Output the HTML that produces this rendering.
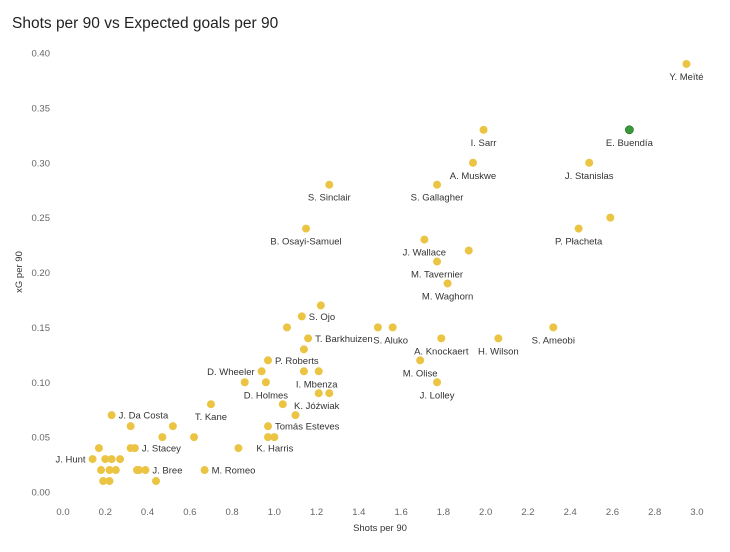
<!DOCTYPE html>
<html><head><meta charset="utf-8"><style>
body{margin:0;background:#fff;font-family:"Liberation Sans","DejaVu Sans",sans-serif}
svg text{font-family:"Liberation Sans","DejaVu Sans",sans-serif}
</style></head><body>
<svg id="chart" width="730" height="547" xmlns="http://www.w3.org/2000/svg">
<text x="12" y="28" font-size="15.5" fill="#222">Shots per 90 vs Expected goals per 90</text>
<g id="axes"></g><g id="marks"></g>
<text x="380" y="531" font-size="9.5" fill="#333" text-anchor="middle">Shots per 90</text>
<text transform="translate(22,272) rotate(-90)" font-size="9.5" fill="#333" text-anchor="middle">xG per 90</text>
</svg>
<script>
const shots=[2.95,2.68,1.99,1.94,2.49,1.26,1.77,2.59,2.44,1.15,1.71,1.92,1.77,1.82,1.22,1.13,1.06,1.49,1.56,2.32,1.16,1.79,2.06,1.14,0.97,1.69,0.94,1.14,1.21,0.86,0.96,1.77,1.21,1.26,1.04,0.70,1.10,0.23,0.32,0.52,0.97,0.47,0.62,0.97,1.00,0.83,0.17,0.32,0.34,0.14,0.20,0.23,0.27,0.18,0.22,0.25,0.35,0.36,0.39,0.67,0.19,0.22,0.44];
const xg=[0.39,0.33,0.33,0.30,0.30,0.28,0.28,0.25,0.24,0.24,0.23,0.22,0.21,0.19,0.17,0.16,0.15,0.15,0.15,0.15,0.14,0.14,0.14,0.13,0.12,0.12,0.11,0.11,0.11,0.10,0.10,0.10,0.09,0.09,0.08,0.08,0.07,0.07,0.06,0.06,0.06,0.05,0.05,0.05,0.05,0.04,0.04,0.04,0.04,0.03,0.03,0.03,0.03,0.02,0.02,0.02,0.02,0.02,0.02,0.02,0.01,0.01,0.01];
const names=["Y. Meïté","E. Buendía","I. Sarr","A. Muskwe","J. Stanislas","S. Sinclair","S. Gallagher","","P. Płacheta","B. Osayi-Samuel","J. Wallace","","M. Tavernier","M. Waghorn","","S. Ojo","","","S. Aluko","S. Ameobi","T. Barkhuizen","A. Knockaert","H. Wilson","","P. Roberts","M. Olise","D. Wheeler","","I. Mbenza","","D. Holmes","J. Lolley","K. Jóźwiak","","","T. Kane","","J. Da Costa","","","Tomás Esteves","","","","","K. Harris","","","J. Stacey","J. Hunt","","","","","","","","","J. Bree","M. Romeo","","",""];
const labelPos=["b","b","b","b","b","b","b","","b","b","b","","b","b","","r","","","bl","b","r","b","b","","r","b","l","","bl","","b","b","bl","","","b","","r","","","r","","","","","r2","","","r","l","","","","","","","","","r","r","","",""];
const xTicks=[0,0.2,0.4,0.6,0.8,1.0,1.2,1.4,1.6,1.8,2.0,2.2,2.4,2.6,2.8,3.0];
const yTicks=[0,0.05,0.10,0.15,0.20,0.25,0.30,0.35,0.40];
const X=v=>63+v*211.33, Y=v=>492-v*1097.5;
const NS="http://www.w3.org/2000/svg";
const axes=document.getElementById('axes'), marks=document.getElementById('marks');
function t(parent,x,y,s,anchor,size,fill){const e=document.createElementNS(NS,'text');e.setAttribute('x',x);e.setAttribute('y',y);e.setAttribute('text-anchor',anchor);e.setAttribute('font-size',size);e.setAttribute('fill',fill);e.textContent=s;parent.appendChild(e);return e;}
xTicks.forEach(v=>{const e=t(axes,X(v),515,v.toFixed(1),'middle',9.5,'#666');

});
yTicks.forEach(v=>{const e=t(axes,50,Y(v)+3.5,v.toFixed(2),'end',9.5,'#666');

});
shots.forEach((s,i)=>{const c=document.createElementNS(NS,'circle');
const cx=X(s),cy=Y(xg[i]);
c.setAttribute('cx',cx);c.setAttribute('cy',cy);c.setAttribute('r',4);
c.setAttribute('fill',names[i]==='E. Buendía'?'#3a9a3a':'#ecc444');
if(names[i]==='E. Buendía'){c.setAttribute('stroke','#2a7a2a');c.setAttribute('stroke-width','0.8');}


marks.appendChild(c);
const n=names[i];if(!n)return;const p=labelPos[i];let e;
if(p==='b')e=t(marks,cx,cy+16,n,'middle',9.5,'#333');
else if(p==='bl')e=t(marks,cx-2,cy+16,n,'middle',9.5,'#333');
else if(p==='r')e=t(marks,cx+7,cy+3.5,n,'start',9.5,'#333');
else if(p==='r2')e=t(marks,cx+18,cy+3.5,n,'start',9.5,'#333');
else e=t(marks,cx-7,cy+3.5,n,'end',9.5,'#333');

});
</script>
</body></html>
